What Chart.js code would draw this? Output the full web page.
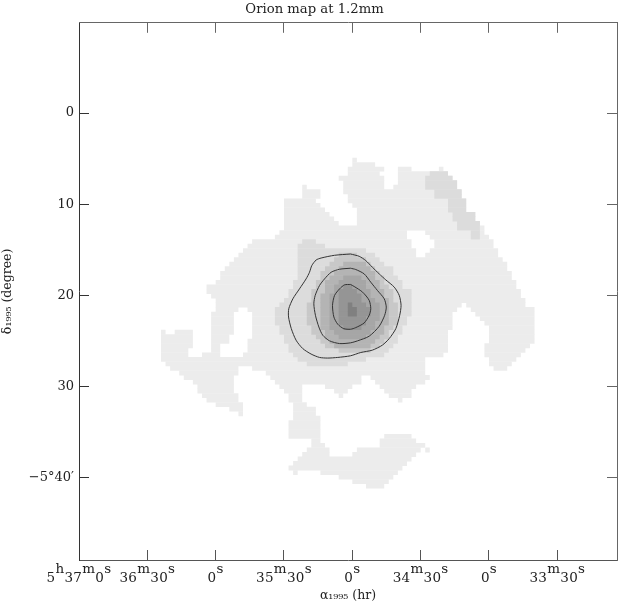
<!DOCTYPE html>
<html><head><meta charset="utf-8">
<style>html,body{margin:0;padding:0;background:#fff}canvas{display:block}</style>
<script src="https://cdn.jsdelivr.net/npm/chart.js@4"></script>
</head><body><canvas id="c" width="621" height="603"></canvas>
<script>
const titleText = "Orion map at 1.2mm";
const xAxisTitle = "\u03b1\u2081\u2089\u2089\u2085 (hr)";
const yAxisTitle = "\u03b4\u2081\u2089\u2089\u2085 (degree)";
const xTickValues = [0,30,60,90,120,150,180,210];
const xTickLabels = [
 [["5",0],["h",1],["37",0],["m",1],["0",0],["s",1]],
 [["36",0],["m",1],["30",0],["s",1]],
 [["0",0],["s",1]],
 [["35",0],["m",1],["30",0],["s",1]],
 [["0",0],["s",1]],
 [["34",0],["m",1],["30",0],["s",1]],
 [["0",0],["s",1]],
 [["33",0],["m",1],["30",0],["s",1]]
];
const yTickValues = [0,10,20,30,40];
const yTickLabels = ["0","10","20","30","\u22125\u00b040\u2032"];
const raRange = [0,236.2];
const decRange = [-9.9,49];
// map grid: first row declination offset, row step (arcmin), column step (s of RA)
const dec0 = 5.156, dDec = 0.4965, dRA = 2;
// each entry: row, then start/end column pairs of that brightness level
const level1 = [[0,60,61],[1,60,65],[2,59,67,70,73,79,80],[3,59,66,70,81],[4,57,67,70,82],[5,58,67,70,83],
[6,49,50,58,67,69,83],[7,49,53,58,84],[8,49,53,59,84],[9,45,52,59,85],[10,45,53,60,85],[11,45,54,61,85],
[12,45,55,61,87],[13,45,56,61,87],[14,45,57,61,88],[15,45,89],[16,44,72,76,89],[17,43,72,77,90],
[18,38,73,78,91],[19,37,73,78,91],[20,36,74,77,92],[21,35,74,76,92],[22,34,93],[23,33,94],[24,32,94],
[25,31,95],[26,31,95],[27,30,96],[28,28,96],[29,28,97],[30,29,97],[31,30,98],[32,30,84,85,98],
[33,30,35,37,83,86,100],[34,29,34,38,82,87,100],[35,29,34,38,82,88,100],[36,29,34,38,82,89,100],
[37,29,34,38,82,90,100],[38,18,19,21,25,29,34,38,81,90,100],[39,18,25,29,33,38,81,90,100],
[40,18,25,29,33,37,81,90,100],[41,18,25,29,31,37,81,89,99],[42,18,24,29,31,37,81,89,98],
[43,18,24,27,31,36,80,89,97],[44,18,76,90,96],[45,19,76,90,95],[46,20,35,38,76,91,94],[47,22,35,41,76],
[48,23,34,42,62,64,77],[49,25,34,43,62,65,76],[50,26,34,44,49,54,60,66,74],[51,26,34,45,49,56,59,67,73],
[52,27,35,46,49,57,58,68,73],[53,28,35,46,49,70,71],[54,30,36,47,50],[55,33,36,47,52],[56,35,36,47,52],
[57,47,53],[58,46,53],[59,46,53],[60,46,53],[61,46,53,67,73],[62,51,53,66,74],[63,51,54,66,76],
[64,50,55,61,75,76,77],[65,49,55,60,74],[66,48,73],[67,47,72],[68,46,71],[69,47,48,53,70],[70,57,69],
[71,60,68],[72,63,67]];
const level2 = [[3,77,81],[4,76,82],[5,76,83],[6,76,83],[7,78,84],[8,78,84],[9,81,85],[10,81,85],[11,81,85],
[12,82,87],[13,82,87],[14,83,88],[15,83,88],[16,86,88],[17,86,88],
[18,49,52],[19,48,54],[20,48,63],[21,48,65],[22,48,66],[23,48,67],[24,48,69],[25,48,69],[26,48,70],
[27,47,71],[28,47,71],[29,46,73],[30,46,73],[31,45,73],[32,44,73],[33,43,73],[34,43,73],[35,43,72],
[36,43,72],[37,44,71],[38,44,71],[39,45,70],[40,45,70],[41,46,69],[42,46,68],[43,47,67],[44,48,63],[45,50,59]];
const level3 = [[21,57,61],[22,56,63],[23,55,64],[24,54,65],[25,53,66],[26,53,67],[27,52,67],[28,52,68],
[29,51,69],[30,51,69],[31,51,69],[32,50,70],[33,50,70],[34,50,70],[35,50,70],[36,50,70],[37,51,69],
[38,51,68],[39,52,68],[40,53,67],[41,54,66],[42,57,64]];
const level4 = [[23,58,63],[24,57,64],[25,56,65],[26,55,65],[27,54,66],[28,54,66],[29,54,67],[30,53,67],
[31,53,68],[32,53,68],[33,53,68],[34,53,68],[35,53,68],[36,53,68],[37,53,67],[38,54,67],[39,54,66],
[40,55,65],[41,56,64]];
const level5 = [[26,58,62],[27,57,63],[28,56,63],[29,56,64],[30,55,64],[31,55,65],[32,55,66],[33,55,66],
[34,55,66],[35,55,66],[36,55,65],[37,55,65],[38,56,64],[39,57,63]];
const level6 = [[28,58,60],[29,57,61],[30,57,62],[31,57,62],[32,57,63],[33,57,64],[34,57,64],[35,57,63],
[36,57,63],[37,58,62]];
const level7 = [[32,59,60],[33,59,61],[34,59,61]];
const levelColors = ["#ececec","#dcdcdc","#c8c8c8","#b4b4b4","#a6a6a6","#959595","#808080"];
const contourOuter = [[119.2,15.45],[112.2,15.59],[106.3,15.89],[104.1,16.11],[102.2,16.72],[101.2,17.45],[99.7,18.18],
[96.8,19.27],[93.9,20.36],[92.1,21.45],[92.0,22.36],[93.2,23.63],[95.3,24.90],[98.2,25.81],[101.9,26.42],[105.6,26.79],
[109.2,26.86],[113.6,26.79],[119.2,26.61],[123.7,26.25],[128.8,25.99],[133.2,25.44],[136.2,24.72],[139.1,23.63],
[140.8,22.17],[141.4,21.08],[140.6,19.99],[138.4,19.08],[134.7,18.29],[131.8,17.63],[128.8,16.90],[125.9,16.17],[123.0,15.70],[119.2,15.45]];
const contourMiddle = [[119.2,17.01],[114.4,17.12],[110.7,17.45],[107.8,18.18],[105.6,18.90],[103.7,19.99],[103.1,20.91],
[103.8,22.17],[105.3,23.45],[107.0,24.35],[110.0,24.97],[114.4,25.27],[119.2,25.19],[122.3,24.97],[127.4,24.46],[131.8,23.37],
[134.2,22.17],[134.9,21.27],[134.0,20.36],[131.0,19.44],[128.1,18.54],[125.2,17.63],[121.5,17.15],[119.2,17.01]];
const contourInner = [[119.2,18.79],[116.6,18.83],[114.4,19.27],[112.2,19.99],[111.3,21.08],[111.9,22.36],[113.6,23.15],
[116.2,23.63],[119.2,23.70],[121.5,23.52],[125.2,23.01],[127.4,22.17],[128.1,21.45],[127.4,20.53],[124.5,19.63],[120.8,19.01],[119.2,18.79]];

const FONT = '"DejaVu Serif"';
const TEXT = "#222";
function spans(level){
  const out=[];
  for(const row of level){
    for(let i=1;i<row.length;i+=2){
      out.push({y:dec0+row[0]*dDec, x:[row[i]*dRA,row[i+1]*dRA]});
    }
  }
  return out;
}
const levels=[level1,level2,level3,level4,level5,level6,level7];
const datasets=levels.map((lv,i)=>({
  type:'bar',label:'level '+(i+1),indexAxis:'y',grouped:false,barPercentage:1.08,categoryPercentage:1,
  xAxisID:'x',yAxisID:'y',data:spans(lv),backgroundColor:levelColors[i],borderWidth:0,order:20-i
}));
[contourOuter,contourMiddle,contourInner].forEach((c,i)=>datasets.push({
  type:'scatter',label:'contour '+(i+1),showLine:true,xAxisID:'x',yAxisID:'y',
  data:c.map(p=>({x:p[0],y:p[1]})),borderColor:'#333',borderWidth:1,pointRadius:0,tension:0.25,order:0
}));
const xTicksPlugin={id:'xTicksText',afterDraw(chart){
  const s=chart.scales.x,ctx=chart.ctx;
  ctx.save();
  ctx.font='13.5px '+FONT;ctx.fillStyle=TEXT;ctx.textBaseline='alphabetic';ctx.textAlign='left';
  ctx.letterSpacing='0.3px';
  const base=582,raise=9;
  xTickValues.forEach((v,i)=>{
    const segs=xTickLabels[i];
    const w=segs.reduce((a,g)=>a+ctx.measureText(g[0]).width,0);
    let x=s.getPixelForValue(v)-w/2;
    for(const g of segs){ctx.fillText(g[0],x,g[1]?base-raise:base);x+=ctx.measureText(g[0]).width;}
  });
  ctx.restore();
}};
function axisCommon(col){return {
  offset:false,
  grid:{offset:false,drawOnChartArea:false,drawTicks:true,tickLength:-10,tickColor:col,tickWidth:1},
  border:{display:true,color:col,width:1}
};}
new Chart(document.getElementById('c'),{
  type:'bar',
  data:{datasets},
  plugins:[xTicksPlugin],
  options:{
    responsive:false,animation:false,events:[],
    layout:{padding:{left:12,right:4,top:0,bottom:0}},
    plugins:{legend:{display:false},tooltip:{enabled:false},
      title:{display:true,text:titleText,color:TEXT,font:{family:FONT,size:13.2,weight:'normal',lineHeight:1},padding:{top:0,bottom:6.8}}},
    scales:{
      x:{type:'linear',position:'bottom',min:raRange[0],max:raRange[1],...axisCommon('#555'),
        afterFit(s){s.height=43;},
        ticks:{display:false,stepSize:30,includeBounds:false},
        title:{display:true,text:xAxisTitle,color:TEXT,font:{family:FONT,size:12.5,weight:'normal'},padding:{top:2,bottom:0}}},
      y:{type:'linear',position:'left',reverse:true,min:decRange[0],max:decRange[1],...axisCommon('#333'),
        afterFit(s){s.width=67;},
        ticks:{stepSize:10,includeBounds:false,color:TEXT,padding:15,font:{family:FONT,size:13},
          callback(v){const i=yTickValues.indexOf(v);return i<0?'':yTickLabels[i];}},
        title:{display:true,text:yAxisTitle,color:TEXT,font:{family:FONT,size:12.5,weight:'normal'},padding:{top:-12,bottom:0}}},
      xTop:{type:'linear',position:'top',min:raRange[0],max:raRange[1],...axisCommon('#666'),
        afterFit(s){s.height=0;},ticks:{display:false,stepSize:30,includeBounds:false}},
      yRight:{type:'linear',position:'right',reverse:true,min:decRange[0],max:decRange[1],...axisCommon('#666'),
        afterFit(s){s.width=0;},ticks:{display:false,stepSize:10,includeBounds:false}}
    }
  }
});
</script></body></html>
